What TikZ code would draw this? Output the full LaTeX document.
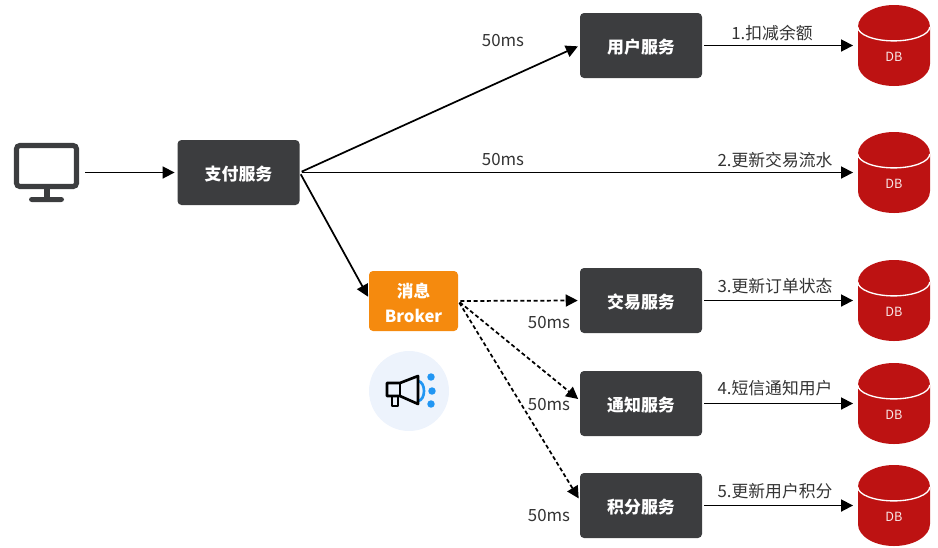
\documentclass[tikz,border=0pt]{standalone}
\usepackage{fontspec}
\setmainfont{Noto Sans CJK SC}
\usetikzlibrary{arrows.meta,shapes.geometric}
\definecolor{boxgray}{HTML}{3C3D3F}
\definecolor{brokerorange}{HTML}{F58A0E}
\definecolor{dbred}{HTML}{BD1212}
\definecolor{labelgray}{HTML}{333333}
\definecolor{hornblue}{HTML}{2196F3}
\definecolor{hornback}{HTML}{EDF3FC}

\begin{document}
\begin{tikzpicture}
[x=0.75pt,y=-0.75pt,
>={Triangle[length=9pt,width=9pt]},
svcbox/.style={fill=boxgray,text=white,rounded corners=3pt,minimum width=91.5pt,minimum height=48.75pt,inner sep=0pt,text height=12.4pt,text depth=0pt,font=\bfseries\fontsize{12.7pt}{15pt}\selectfont},
brokerbox/.style={fill=brokerorange,text=white,rounded corners=3pt,minimum width=66.75pt,minimum height=45pt,inner sep=0pt,align=center,text height=32pt,font=\bfseries\fontsize{12.5pt}{18.5pt}\selectfont},
dbnode/.style={cylinder,shape border rotate=90,aspect=2.57,anchor=shape center,fill=dbred,text=white!90!dbred,minimum width=54pt,minimum height=60.75pt,inner sep=0pt,font=\fontsize{9.5pt}{11pt}\selectfont},
dbline/.style={white,line width=1pt},
tag/.style={text=labelgray,inner sep=0pt,font=\fontsize{12.6pt}{15pt}\selectfont},
link/.style={->,line width=1.3pt,shorten >=3.5pt,shorten <=1.5pt},
dashlink/.style={->,line width=1.3pt,densely dashed,shorten >=1.5pt,shorten <=1.5pt}]
  \useasboundingbox (0,0) rectangle (938,547);
  % terminal
  \draw [boxgray,line width=3.8pt,rounded corners=2.5pt] (16.5,145.5) rectangle (76.5,186.5);
  \fill [boxgray] (44,188) rectangle (50,199);
  \fill [boxgray,rounded corners=2pt] (29,197) rectangle (64,202);
  \coordinate (screen) at (85,172.5);
  % services
  \node [svcbox] (pay) at (238.5,172.5) {支付服务};
  \node [svcbox] (user) at (641,45.5) {用户服务};
  \node [svcbox] (trade) at (641,300.5) {交易服务};
  \node [svcbox] (notify) at (641,403.5) {通知服务};
  \node [svcbox] (score) at (641,505.5) {积分服务};
  \node [brokerbox] (broker) at (413.5,301) {消息\\Broker};
  % databases
  \node [dbnode] (db1) at (894,45.5) {DB};
  \node [dbnode] (db2) at (894,172.5) {DB};
  \node [dbnode] (db3) at (894,300.5) {DB};
  \node [dbnode] (db4) at (894,403.5) {DB};
  \node [dbnode] (db5) at (894,505.5) {DB};
  \draw [dbline] (db1.before top) arc [start angle=180,end angle=360,x radius=27pt,y radius=10.5pt];
  \draw [dbline] (db2.before top) arc [start angle=180,end angle=360,x radius=27pt,y radius=10.5pt];
  \draw [dbline] (db3.before top) arc [start angle=180,end angle=360,x radius=27pt,y radius=10.5pt];
  \draw [dbline] (db4.before top) arc [start angle=180,end angle=360,x radius=27pt,y radius=10.5pt];
  \draw [dbline] (db5.before top) arc [start angle=180,end angle=360,x radius=27pt,y radius=10.5pt];
  % connectors
  \draw [link,shorten <=0pt,shorten >=2pt] (screen) -- (pay.west);
  \draw [link,shorten >=1.5pt] (pay.east) -- (user.west);
  \draw [link] (pay.east) -- (db2.shape center -| db2.west);
  \draw [link,shorten >=1pt] (pay.east) -- (broker.176);
  \draw [link] (user.east) -- (db1.shape center -| db1.west);
  \draw [link] (trade.east) -- (db3.shape center -| db3.west);
  \draw [link] (notify.east) -- (db4.shape center -| db4.west);
  \draw [link] (score.east) -- (db5.shape center -| db5.west);
  \draw [dashlink] (broker.east) -- (trade.west);
  \draw [dashlink] (broker.east) -- (notify.177);
  \draw [dashlink] (broker.east) -- (score.175);
  % labels
  \node [tag] (t1) at (503,41) {50ms};
  \node [tag] (t2) at (503,160) {50ms};
  \node [tag] (t3) at (549,323) {50ms};
  \node [tag] (t4) at (549,405) {50ms};
  \node [tag] (t5) at (549,515) {50ms};
  \node [tag] (s1) at (772,33) {1.扣减余额};
  \node [tag] (s2) at (775,160) {2.更新交易流水};
  \node [tag] (s3) at (775,286) {3.更新订单状态};
  \node [tag] (s4) at (775,388) {4.短信通知用户};
  \node [tag] (s5) at (775,491) {5.更新用户积分};
  % megaphone
  \fill [hornback] (409,391) circle [radius=30pt];
  \draw [hornblue,line width=2pt,line join=round] (418,381) .. controls (426,382) and (426,400) .. (418,401);
  \draw [black,line width=2pt,line join=round] (387,383) -- (400,383) -- (418,376) -- (418,404) -- (400,396) -- (387,396) -- cycle;
  \draw [black,line width=2pt] (400,383) -- (400,396);
  \draw [black,line width=2pt,line join=round] (392,396) -- (392,406) -- (398,406) -- (398,396);
  \fill [hornblue] (431,377) circle [radius=2.8pt];
  \fill [hornblue] (432,391) circle [radius=2.8pt];
  \fill [hornblue] (431,404) circle [radius=2.8pt];
\end{tikzpicture}
\end{document}
